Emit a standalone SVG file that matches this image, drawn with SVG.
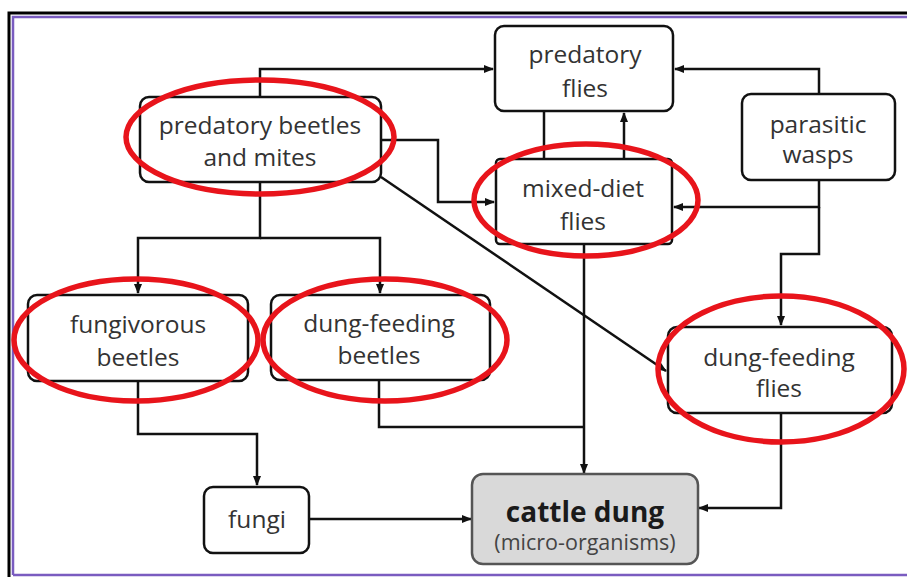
<svg xmlns="http://www.w3.org/2000/svg" width="907" height="577" viewBox="0 0 907 577">
<style>
.box{fill:#fff;stroke:#111;stroke-width:2.5}
.t{font-family:"Open Sans","Liberation Sans",sans-serif;font-size:24.5px;fill:#333;text-anchor:middle}
.c{fill:none;stroke:#111;stroke-width:2.5}
.ring{fill:none;stroke:#e8141b;stroke-width:5.5}
</style>
<defs>
<marker id="ah" markerWidth="10" markerHeight="8" refX="9" refY="4" orient="auto" markerUnits="userSpaceOnUse">
<path d="M0,0 L10,4 L0,8 Z" fill="#111"/>
</marker>
</defs>
<rect x="0" y="0" width="907" height="577" fill="#fff"/>
<g id="frame">
<path d="M9,577 V13 H907" fill="none" stroke="#000" stroke-width="3"/>
<path d="M13,575 V17 H907" fill="none" stroke="#7a5cc0" stroke-width="2.5"/>
<path d="M13,575 H907" fill="none" stroke="#7a5cc0" stroke-width="2.5"/>
</g>
<g id="connectors">
<path class="c" d="M260,97 V69 H493" marker-end="url(#ah)"/>
<path class="c" d="M381,140 H438 V202 H494" marker-end="url(#ah)"/>
<path class="c" d="M381,177 L666,371" marker-end="url(#ah)"/>
<path class="c" d="M260,182 V238 H138 V293" marker-end="url(#ah)"/>
<path class="c" d="M260,238 H380 V293" marker-end="url(#ah)"/>
<path class="c" d="M544,111 V159"/>
<path class="c" d="M624,159 V113" marker-end="url(#ah)"/>
<path class="c" d="M819,94 V69 H675" marker-end="url(#ah)"/>
<path class="c" d="M819,180 V207 H674" marker-end="url(#ah)"/>
<path class="c" d="M819,207 V254 H781 V325" marker-end="url(#ah)"/>
<path class="c" d="M138,381 V434 H257 V485" marker-end="url(#ah)"/>
<path class="c" d="M379,381 V427 H584"/>
<path class="c" d="M584,244 V473" marker-end="url(#ah)"/>
<path class="c" d="M309,519 H471" marker-end="url(#ah)"/>
<path class="c" d="M781,413 V508 H699" marker-end="url(#ah)"/>
</g>
<g id="predatory-beetles">
<rect class="box" x="140" y="97" width="241" height="85" rx="9"/>
<text class="t" x="260" y="134">predatory beetles</text>
<text class="t" x="260" y="166">and mites</text>
</g>
<g id="predatory-flies">
<rect class="box" x="495" y="26" width="178" height="85" rx="9"/>
<text class="t" x="585" y="63">predatory</text>
<text class="t" x="585" y="97">flies</text>
</g>
<g id="parasitic-wasps">
<rect class="box" x="742" y="94" width="153" height="86" rx="9"/>
<text class="t" x="818" y="133">parasitic</text>
<text class="t" x="818" y="163">wasps</text>
</g>
<g id="mixed-diet-flies">
<rect class="box" x="496" y="159" width="176" height="85" rx="4"/>
<text class="t" x="583" y="197">mixed-diet</text>
<text class="t" x="583" y="230">flies</text>
</g>
<g id="fungivorous-beetles">
<rect class="box" x="28" y="295" width="220" height="86" rx="9"/>
<text class="t" x="138" y="333">fungivorous</text>
<text class="t" x="138" y="366">beetles</text>
</g>
<g id="dung-feeding-beetles">
<rect class="box" x="271" y="295" width="219" height="85" rx="9"/>
<text class="t" x="379" y="332">dung-feeding</text>
<text class="t" x="379" y="364">beetles</text>
</g>
<g id="dung-feeding-flies">
<rect class="box" x="668" y="327" width="224" height="86" rx="9"/>
<text class="t" x="779" y="366">dung-feeding</text>
<text class="t" x="779" y="397">flies</text>
</g>
<g id="fungi">
<rect class="box" x="204" y="487" width="105" height="66" rx="9"/>
<text class="t" x="257" y="528">fungi</text>
</g>
<g id="cattle-dung">
<rect x="472" y="474" width="226" height="90" rx="11" fill="#d9d9d9" stroke="#555" stroke-width="2.5"/>
<text class="t" x="585" y="522" style="font-size:28px;font-weight:bold;fill:#1a1a1a">cattle dung</text>
<text class="t" x="585" y="550" style="font-size:21.5px;fill:#444">(micro-organisms)</text>
</g>
<g id="highlights">
<ellipse class="ring" cx="260" cy="137" rx="134" ry="57"/>
<ellipse class="ring" cx="586" cy="200" rx="112" ry="56"/>
<ellipse class="ring" cx="136" cy="340" rx="122" ry="61"/>
<ellipse class="ring" cx="385" cy="340" rx="122" ry="61"/>
<ellipse class="ring" cx="781" cy="369" rx="123" ry="73"/>
</g>
</svg>
